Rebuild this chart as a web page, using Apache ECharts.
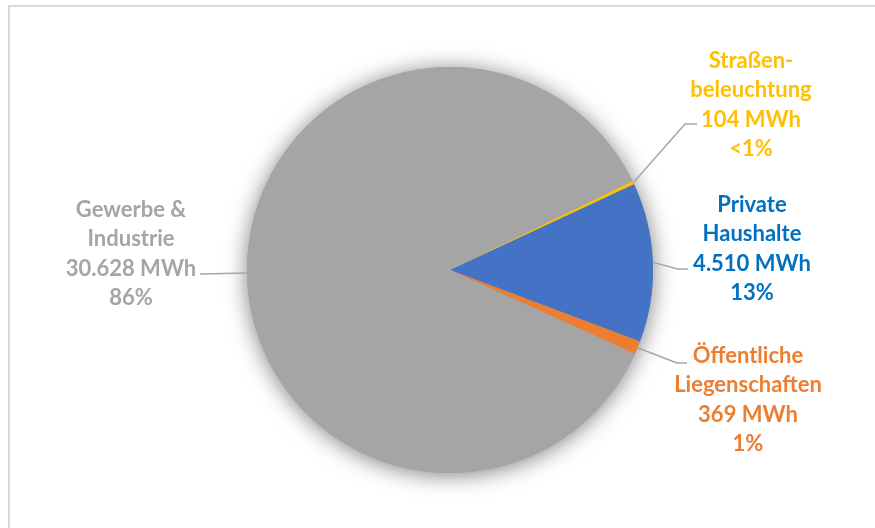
<!DOCTYPE html>
<html>
<head>
<meta charset="utf-8">
<script src="https://cdn.jsdelivr.net/npm/echarts@6/dist/echarts.min.js"></script>
<style>
html,body{margin:0;padding:0;background:#fff;}
#chart{width:875px;height:528px;}
</style>
</head>
<body>
<div id="chart"></div>
<script>
// ---- data ----
const categories = ['Straßen-\nbeleuchtung', 'Private\nHaushalte', 'Öffentliche\nLiegenschaften', 'Gewerbe &\nIndustrie'];
const valuesMWh = [104, 4510, 369, 30628];
const sliceColors = ['#FFC000', '#4472C4', '#ED7D31', '#A5A5A5'];
const labelColors = ['#FFC000', '#0070C0', '#ED7D31', '#A5A5A5'];

// label block placement (center x, top y) and leader-line elbow/end
const labelPos = [
  {x: 751, y: 46, elbow: [685, 124], end: [697, 124]},
  {x: 752, y: 190, elbow: [678, 269], end: [688, 269]},
  {x: 748, y: 341, elbow: [677, 363], end: [687, 363]},
  {x: 131, y: 195, elbow: [230, 274], end: [200, 274]}
];

const fmt = v => v.toLocaleString('de-DE');

const chart = echarts.init(document.getElementById('chart'), null, {renderer: 'canvas'});
const total = valuesMWh.reduce((a, b) => a + b, 0);

chart.setOption({
  backgroundColor: '#ffffff',
  animation: false,
  graphic: [{
    type: 'rect',
    shape: {x: 9, y: 6, width: 900, height: 600},
    style: {fill: 'none', stroke: '#D9D9D9', lineWidth: 2},
    silent: true,
    z: -10
  }],
  series: [
    {
      type: 'pie',
      center: [450, 270],
      radius: 203,
      silent: true,
      z: 1,
      label: {show: false},
      labelLine: {show: false},
      itemStyle: {color: '#A5A5A5', shadowBlur: 22, shadowColor: 'rgba(0,0,0,0.5)', shadowOffsetY: 2},
      data: [{value: total, name: 'shadow'}]
    },
    {
      type: 'pie',
      center: [450, 270],
      radius: 203,
      startAngle: 26,
      clockwise: true,
      z: 2,
      avoidLabelOverlap: false,
      silent: true,
      data: categories.map((c, i) => ({
        name: c,
        value: valuesMWh[i],
        itemStyle: {color: sliceColors[i]},
        label: {color: labelColors[i]}
      })),
      itemStyle: {borderWidth: 0},
      label: {
        show: true,
        position: 'outside',
        fontFamily: 'Lato',
        fontWeight: 'bold',
        fontSize: 22,
        lineHeight: 29.5,
        formatter: p => {
          const pct = p.percent < 1 ? '<1%' : Math.round(p.percent) + '%';
          return p.name + '\n' + fmt(p.value) + ' MWh\n' + pct;
        }
      },
      labelLine: {
        show: true,
        length: 20,
        length2: 10,
        lineStyle: {color: '#A6A6A6', width: 1.5}
      },
      labelLayout: params => {
        const lp = labelPos[params.dataIndex];
        let start;
        if (params.labelLinePoints && params.labelLinePoints[0]) {
          start = params.labelLinePoints[0];
        } else {
          start = [params.rect.x, params.rect.y];
        }
        const pts = params.dataIndex === 3
          ? [start, lp.end, lp.end]
          : [start, lp.elbow, lp.end];
        return {
          x: lp.x,
          y: lp.y,
          align: 'center',
          verticalAlign: 'top',
          labelLinePoints: pts
        };
      }
    }
  ]
});
</script>
</body>
</html>
